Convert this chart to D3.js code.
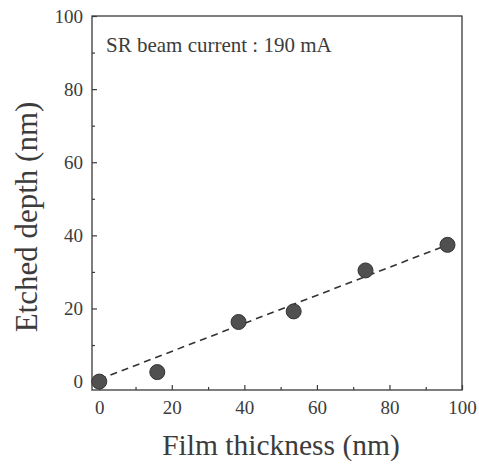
<!DOCTYPE html>
<html><head><meta charset="utf-8">
<script src="https://cdn.jsdelivr.net/npm/d3@7"></script>
<style>html,body{margin:0;padding:0;background:#fff;}</style>
</head><body>
<svg id="chart" width="479" height="464"></svg>
<script>
const thickness = [0, 16, 38.4, 53.6, 73.4, 96];
const depth = [0, 2.6, 16.3, 19.2, 30.4, 37.4];
const fitX = [0, 96];
const fitY = [0.6, 37.4];
const xTicks = [0, 20, 40, 60, 80, 100];
const yTicks = [0, 20, 40, 60, 80, 100];
const xMinor = [10, 30, 50, 70, 90];
const yMinor = [10, 30, 50, 70, 90];
const annotation = "SR beam current : 190 mA";
const xTitle = "Film thickness (nm)";
const yTitle = "Etched depth (nm)";

const svg = d3.select("#chart");
const L = 92, R = 462, T = 16, B = 390;
const x = d3.scaleLinear().domain([-2, 100]).range([L, R]);
const y = d3.scaleLinear().domain([-2.3, 100]).range([B, T]);
const font = "Liberation Serif";
const ink = "#3a3a3a";
const txt = "#3c3c3c";

// frame
svg.append("rect").attr("x", L).attr("y", T).attr("width", R - L).attr("height", B - T)
  .attr("fill", "none").attr("stroke", ink).attr("stroke-width", 1.3);

// x axis
const xa = svg.append("g").attr("transform", `translate(0,${B})`)
  .call(d3.axisBottom(x).tickValues(xTicks).tickSize(-5).tickPadding(13).tickFormat(d3.format("d")));
xa.select(".domain").remove();
const xm = svg.append("g").attr("transform", `translate(0,${B})`)
  .call(d3.axisBottom(x).tickValues(xMinor).tickSize(-3).tickFormat(""));
xm.select(".domain").remove();
// y axis
const ya = svg.append("g").attr("transform", `translate(${L},0)`)
  .call(d3.axisLeft(y).tickValues(yTicks).tickSize(-5).tickPadding(9).tickFormat(d3.format("d")));
ya.select(".domain").remove();
const ym = svg.append("g").attr("transform", `translate(${L},0)`)
  .call(d3.axisLeft(y).tickValues(yMinor).tickSize(-3).tickFormat(""));
ym.select(".domain").remove();

svg.selectAll(".tick line").attr("stroke", ink).attr("stroke-width", 1.2);
svg.selectAll(".tick text").attr("fill", txt).style("font-family", font).style("font-size", "19px");
xa.selectAll(".tick text").attr("dy", "0.6em");

// fit line
svg.append("path")
  .datum(fitX.map((d, i) => [d, fitY[i]]))
  .attr("d", d3.line().x(d => x(d[0])).y(d => y(d[1])))
  .attr("fill", "none").attr("stroke", "#333").attr("stroke-width", 1.6)
  .attr("stroke-dasharray", "7,5");

// points
svg.selectAll("circle.pt").data(thickness).enter().append("circle")
  .attr("class", "pt")
  .attr("cx", d => x(d)).attr("cy", (d, i) => y(depth[i])).attr("r", 7.5)
  .attr("fill", "#505050").attr("stroke", "#333").attr("stroke-width", 1);

// annotation
svg.append("text").attr("x", 106).attr("y", 52).text(annotation)
  .attr("fill", txt).style("font-family", font).style("font-size", "21px");

// titles
svg.append("text").attr("x", 281).attr("y", 455).attr("text-anchor", "middle").text(xTitle)
  .attr("fill", txt).style("font-family", font).style("font-size", "29.5px");
svg.append("text").attr("transform", "translate(37,217) rotate(-90)").attr("text-anchor", "middle").text(yTitle)
  .attr("fill", txt).style("font-family", font).style("font-size", "31px");
</script>
</body></html>
